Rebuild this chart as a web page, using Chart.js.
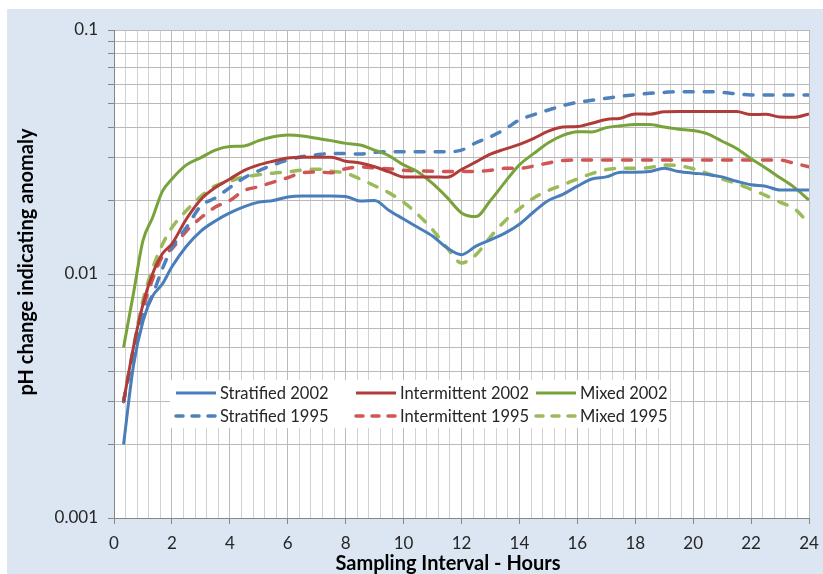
<!DOCTYPE html>
<html>
<head>
<meta charset="utf-8">
<script src="https://cdn.jsdelivr.net/npm/chart.js@4/dist/chart.umd.min.js"></script>
<style>
  html, body { margin: 0; padding: 0; background: #ffffff; }
  #phChart { display: block; }
</style>
</head>
<body>
<canvas id="phChart" width="823" height="574"></canvas>
<script>
// Sampling interval (hours)
const hours = [0.33, 0.67, 1, 1.33, 1.67, 2, 2.5, 3, 3.5, 4, 4.5, 5, 5.5, 6, 6.5, 7, 7.5, 8, 8.5, 9, 9.5, 10,
  10.5, 11, 11.5, 12, 12.5, 13, 13.5, 14, 14.5, 15, 15.5, 16, 16.5, 17, 17.5, 18, 18.5, 19, 19.5, 20,
  20.5, 21, 21.5, 22, 22.5, 23, 23.5, 24];

// pH change indicating anomaly, one array per site / year
const stratified2002 = [0.0020, 0.0042, 0.0064, 0.0081, 0.0091, 0.0107, 0.0130, 0.0150, 0.0165, 0.0178, 0.0189, 0.0197,
  0.0200, 0.0207, 0.0209, 0.0209, 0.0209, 0.0208, 0.0199, 0.0200, 0.0182, 0.0168, 0.0155, 0.0143, 0.0128, 0.0120,
  0.0130, 0.0138, 0.0147, 0.0160, 0.0180, 0.0200, 0.0212, 0.0229, 0.0245, 0.0250, 0.0261, 0.0261, 0.0263, 0.0271,
  0.0263, 0.0259, 0.0256, 0.0250, 0.0240, 0.0232, 0.0229, 0.0221, 0.0221, 0.0221];
const intermittent2002 = [0.0030, 0.0050, 0.0075, 0.0100, 0.0121, 0.0133, 0.0168, 0.0202, 0.0226, 0.0245, 0.0266, 0.0280,
  0.0290, 0.0299, 0.0301, 0.0301, 0.0301, 0.0290, 0.0285, 0.0275, 0.0262, 0.0250, 0.0250, 0.0250, 0.0249, 0.0268,
  0.0288, 0.0310, 0.0325, 0.0340, 0.0360, 0.0385, 0.0400, 0.0402, 0.0415, 0.0430, 0.0435, 0.0453, 0.0452, 0.0462,
  0.0463, 0.0463, 0.0463, 0.0463, 0.0463, 0.0450, 0.0452, 0.0440, 0.0439, 0.0453];
const mixed2002 = [0.0050, 0.0083, 0.0137, 0.0170, 0.0218, 0.0245, 0.0280, 0.0300, 0.0322, 0.0333, 0.0335, 0.0352,
  0.0365, 0.0371, 0.0368, 0.0360, 0.0352, 0.0343, 0.0338, 0.0322, 0.0305, 0.0280, 0.0262, 0.0235, 0.0206, 0.0178,
  0.0172, 0.0200, 0.0238, 0.0280, 0.0312, 0.0345, 0.0370, 0.0383, 0.0382, 0.0398, 0.0405, 0.0410, 0.0410, 0.0400,
  0.0392, 0.0387, 0.0375, 0.0350, 0.0327, 0.0297, 0.0272, 0.0248, 0.0226, 0.0201];
const stratified1995 = [0.0030, 0.0047, 0.0068, 0.0082, 0.0105, 0.0128, 0.0155, 0.0190, 0.0205, 0.0226, 0.0248, 0.0265,
  0.0280, 0.0293, 0.0303, 0.0308, 0.0312, 0.0312, 0.0310, 0.0315, 0.0317, 0.0317, 0.0317, 0.0317, 0.0317, 0.0322,
  0.0345, 0.0365, 0.0392, 0.0428, 0.0450, 0.0470, 0.0490, 0.0505, 0.0515, 0.0525, 0.0535, 0.0543, 0.0550, 0.0555,
  0.0559, 0.0559, 0.0559, 0.0555, 0.0548, 0.0542, 0.0542, 0.0542, 0.0542, 0.0542];
const intermittent1995 = [0.0030, 0.0048, 0.0072, 0.0095, 0.0118, 0.0127, 0.0150, 0.0170, 0.0188, 0.0200, 0.0220, 0.0228,
  0.0238, 0.0248, 0.0260, 0.0262, 0.0260, 0.0270, 0.0275, 0.0272, 0.0270, 0.0266, 0.0265, 0.0264, 0.0263, 0.0263,
  0.0263, 0.0266, 0.0271, 0.0271, 0.0277, 0.0285, 0.0292, 0.0293, 0.0293, 0.0293, 0.0293, 0.0293, 0.0293, 0.0293,
  0.0293, 0.0293, 0.0293, 0.0293, 0.0293, 0.0293, 0.0293, 0.0293, 0.0284, 0.0275];
const mixed1995 = [0.0030, 0.0050, 0.0078, 0.0105, 0.0132, 0.0155, 0.0182, 0.0208, 0.0230, 0.0240, 0.0250, 0.0255,
  0.0259, 0.0262, 0.0267, 0.0269, 0.0264, 0.0259, 0.0245, 0.0230, 0.0215, 0.0197, 0.0175, 0.0152, 0.0128, 0.0111,
  0.0120, 0.0142, 0.0165, 0.0185, 0.0205, 0.0220, 0.0232, 0.0245, 0.0258, 0.0268, 0.0271, 0.0271, 0.0273, 0.0280,
  0.0278, 0.0270, 0.0258, 0.0245, 0.0235, 0.0222, 0.0210, 0.0197, 0.0185, 0.0161];

const seriesNames = ['Stratified 2002', 'Intermittent 2002', 'Mixed 2002', 'Stratified 1995', 'Intermittent 1995', 'Mixed 1995'];
const seriesValues = [stratified2002, intermittent2002, mixed2002, stratified1995, intermittent1995, mixed1995];
const seriesColors = ['#4a7ebb', '#b03c3a', '#78a23a', '#4f81bd', '#cf5654', '#9bbb59'];
const seriesDashed = [false, false, false, true, true, true];

// axis ticks
const xMin = 0, xMax = 24, xMinorStep = 0.4, xMajorStep = 2;
const yDecades = [0.001, 0.01];
const yMin = 0.001, yMax = 0.1;

const FONT = 'Lato, "Liberation Sans", sans-serif';
const DASH = [9, 11];

const datasets = seriesValues.map((vals, i) => ({
  label: seriesNames[i],
  data: hours.map((h, j) => ({ x: h, y: vals[j] })),
  borderColor: seriesColors[i],
  backgroundColor: seriesColors[i],
  borderWidth: seriesDashed[i] ? 3.5 : 3,
  borderDash: seriesDashed[i] ? DASH : [],
  borderCapStyle: seriesDashed[i] ? 'round' : 'butt',
  borderJoinStyle: 'round',
  pointRadius: 0,
  cubicInterpolationMode: 'monotone',
  fill: false
}));

const isMajorX = v => Math.abs(v / xMajorStep - Math.round(v / xMajorStep)) < 1e-6;
const isDecade = v => Math.abs(Math.log10(v) - Math.round(Math.log10(v))) < 1e-6;

// light blue panel behind the white plot area
const panelBackground = {
  id: 'panelBackground',
  beforeDraw(chart) {
    const { ctx, chartArea } = chart;
    ctx.save();
    ctx.fillStyle = '#ffffff';
    ctx.fillRect(0, 0, chart.width, chart.height);
    ctx.fillStyle = '#dce6f2';
    ctx.fillRect(7, 9, chart.width - 7, chart.height - 9);
    ctx.fillStyle = '#ffffff';
    ctx.fillRect(chartArea.left, chartArea.top, chartArea.right - chartArea.left, chartArea.bottom - chartArea.top);
    ctx.restore();
  }
};

// axis titles, placed by hand
const axisTitles = {
  id: 'axisTitles',
  afterDraw(chart) {
    const { ctx, chartArea } = chart;
    ctx.save();
    ctx.fillStyle = '#000000';
    ctx.font = 'bold 20px ' + FONT;
    ctx.textAlign = 'center';
    ctx.textBaseline = 'middle';
    ctx.fillText('Sampling Interval - Hours', 448, 564);
    ctx.translate(27, 262);
    ctx.rotate(-Math.PI / 2);
    ctx.fillText('pH change indicating anomaly', 0, 0);
    ctx.restore();
  }
};

// legend boxed inside the plot, three columns by two rows
const insideLegend = {
  id: 'insideLegend',
  afterDraw(chart) {
    const { ctx } = chart;
    const box = { x: 170, y: 380, w: 500, h: 48 };
    const colX = [174, 354, 534];
    const rowY = [393, 416];
    const sample = 44;
    ctx.save();
    ctx.fillStyle = '#ffffff';
    ctx.fillRect(box.x, box.y, box.w, box.h);
    ctx.font = '16.5px ' + FONT;
    ctx.textBaseline = 'middle';
    chart.data.datasets.forEach((ds, i) => {
      const x = colX[i % 3];
      const y = rowY[Math.floor(i / 3)];
      ctx.strokeStyle = ds.borderColor;
      ctx.lineWidth = ds.borderWidth;
      ctx.lineCap = ds.borderCapStyle;
      ctx.setLineDash(ds.borderDash.length ? [7, 9] : []);
      ctx.beginPath();
      ctx.moveTo(x + 2, y);
      ctx.lineTo(x + sample - 2, y);
      ctx.stroke();
      ctx.setLineDash([]);
      ctx.fillStyle = '#262626';
      ctx.fillText(ds.label, x + sample + 2, y + 1);
    });
    ctx.restore();
  }
};

new Chart(document.getElementById('phChart'), {
  type: 'line',
  data: { datasets },
  plugins: [panelBackground, insideLegend, axisTitles],
  options: {
    responsive: false,
    animation: false,
    devicePixelRatio: 1,
    layout: { padding: { top: 30, right: 14, left: 0, bottom: 0 } },
    plugins: {
      legend: { display: false },
      tooltip: { enabled: false }
    },
    scales: {
      x: {
        type: 'linear',
        min: xMin,
        max: xMax,
        afterBuildTicks(scale) {
          const n = Math.round((xMax - xMin) / xMinorStep);
          scale.ticks = Array.from({ length: n + 1 }, (_, i) => ({ value: +(xMin + i * xMinorStep).toFixed(1) }));
        },
        afterFit(scale) {
          scale.height = 56;
          scale.paddingLeft = 0;
          scale.paddingRight = 0;
        },
        border: { color: '#868686', width: 1 },
        grid: {
          color: c => (isMajorX(c.tick.value) ? '#bababa' : '#d2d2d2'),
          tickColor: c => (isMajorX(c.tick.value) ? '#868686' : 'rgba(0,0,0,0)'),
          tickLength: 6
        },
        ticks: {
          autoSkip: false,
          maxRotation: 0,
          padding: 9,
          color: '#262626',
          font: { family: FONT, size: 17 },
          callback: v => (isMajorX(v) ? String(Math.round(v)) : '')
        }
      },
      y: {
        type: 'logarithmic',
        min: yMin,
        max: yMax,
        afterBuildTicks(scale) {
          const t = [];
          yDecades.forEach(p => {
            for (let m = 1; m <= 9; m++) t.push({ value: +(m * p).toPrecision(3) });
          });
          t.push({ value: yMax });
          scale.ticks = t;
        },
        afterFit(scale) {
          scale.width = 114;
          scale.paddingTop = 0;
          scale.paddingBottom = 0;
        },
        border: { color: '#868686', width: 1 },
        grid: {
          color: '#bababa',
          tickColor: '#868686',
          tickLength: 6
        },
        ticks: {
          autoSkip: false,
          padding: 10,
          color: '#262626',
          font: { family: FONT, size: 17 },
          callback: v => (isDecade(v) ? String(v) : '')
        }
      }
    }
  }
});
</script>
</body>
</html>
